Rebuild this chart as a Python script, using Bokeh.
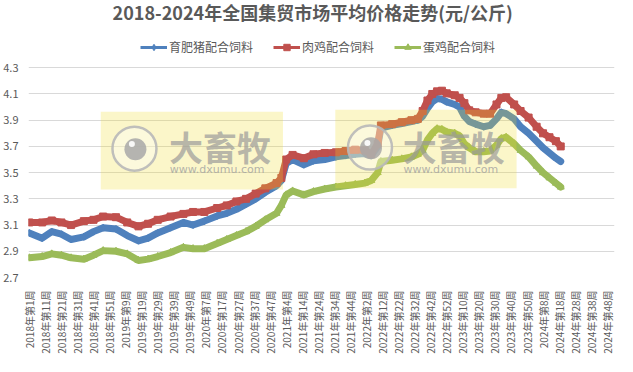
from math import pi
from bokeh.plotting import figure
from bokeh.models import Range1d, FixedTicker, PrintfTickFormatter, Legend, LegendItem, Label
from bokeh.embed import file_html
from bokeh.resources import INLINE
from bokeh.core.properties import value

title_text = "2018-2024年全国集贸市场平均价格走势(元/公斤)"
series_names = ["育肥猪配合饲料", "肉鸡配合饲料", "蛋鸡配合饲料"]
series_colors = ["#4F81BD", "#C0504D", "#9BBB59"]
series_markers = ["diamond", "square", "triangle"]

n_weeks = 365  # 2018年第1周 ... 2024年第52周
tick_index = list(range(0, 361, 10))
tick_labels = [
    "2018年第1周", "2018年第11周", "2018年第21周", "2018年第31周", "2018年第41周", "2018年第51周",
    "2019年第9周", "2019年第19周", "2019年第29周", "2019年第39周", "2019年第49周",
    "2020年第7周", "2020年第17周", "2020年第27周", "2020年第37周", "2020年第47周",
    "2021年第4周", "2021年第14周", "2021年第24周", "2021年第34周", "2021年第44周",
    "2022年第2周", "2022年第12周", "2022年第22周", "2022年第32周", "2022年第42周", "2022年第52周",
    "2023年第10周", "2023年第20周", "2023年第30周", "2023年第40周", "2023年第50周",
    "2024年第8周", "2024年第18周", "2024年第28周", "2024年第38周", "2024年第48周",
]

# week index (0 = 2018年第1周)
week_index = [0, 8, 14, 20, 26, 34, 40, 46, 54, 61,
              68, 74, 80, 88, 96, 102, 109, 117, 123, 129,
              135, 141, 147, 154, 157, 160, 164, 171, 177, 184,
              191, 197, 203, 209, 213, 217, 219, 226, 232, 238,
              242, 245, 248, 251, 254, 257, 260, 265, 268, 271,
              274, 278, 283, 287, 291, 294, 297, 302, 306, 311,
              316, 320, 324, 328, 331]

pig_feed = [3.04, 3.00, 3.05, 3.03, 2.99, 3.01, 3.05, 3.08, 3.07, 3.02,
            2.98, 3.00, 3.04, 3.08, 3.12, 3.10, 3.13, 3.17, 3.19, 3.22,
            3.26, 3.30, 3.35, 3.40, 3.44, 3.57, 3.60, 3.56, 3.59, 3.60,
            3.62, 3.63, 3.64, 3.645, 3.63, 3.70, 3.84, 3.86, 3.875, 3.89,
            3.90, 3.93, 3.99, 4.04, 4.065, 4.06, 4.04, 4.02, 4.00, 3.93,
            3.89, 3.87, 3.85, 3.86, 3.91, 3.96, 3.95, 3.91, 3.85, 3.80,
            3.74, 3.69, 3.65, 3.61, 3.585]

broiler_feed = [3.12, 3.12, 3.135, 3.12, 3.10, 3.13, 3.14, 3.165, 3.16, 3.12,
                3.09, 3.11, 3.14, 3.165, 3.185, 3.20, 3.20, 3.23, 3.25, 3.28,
                3.30, 3.34, 3.38, 3.42, 3.46, 3.60, 3.635, 3.61, 3.64, 3.65,
                3.655, 3.665, 3.675, 3.67, 3.64, 3.72, 3.86, 3.87, 3.885, 3.90,
                3.91, 3.97, 4.05, 4.10, 4.12, 4.125, 4.105, 4.09, 4.07, 4.03,
                3.975, 3.96, 3.95, 3.95, 4.02, 4.07, 4.075, 4.02, 3.97, 3.92,
                3.85, 3.80, 3.77, 3.74, 3.70]

layer_feed = [2.85, 2.86, 2.88, 2.87, 2.85, 2.84, 2.87, 2.905, 2.90, 2.88,
              2.83, 2.84, 2.86, 2.89, 2.93, 2.92, 2.92, 2.96, 2.99, 3.02,
              3.05, 3.09, 3.14, 3.19, 3.25, 3.33, 3.36, 3.33, 3.355, 3.375,
              3.39, 3.40, 3.41, 3.42, 3.44, 3.50, 3.585, 3.595, 3.605, 3.62,
              3.64, 3.67, 3.75, 3.80, 3.835, 3.83, 3.81, 3.80, 3.78, 3.72,
              3.69, 3.66, 3.66, 3.665, 3.71, 3.76, 3.77, 3.72, 3.67, 3.62,
              3.55, 3.50, 3.46, 3.42, 3.39]

y_ticks = [2.7, 2.9, 3.1, 3.3, 3.5, 3.7, 3.9, 4.1, 4.3]

FONT = "Noto Sans CJK SC"
TEXT_GREY = "#595959"
NAN = float("nan")

# frame spans the whole top so that the title and legend (inside it) are not clipped;
# gridlines/ticks stop at 4.3
p = figure(width=617, height=356,
           x_range=Range1d(-0.5, n_weeks - 0.5), y_range=Range1d(2.7, 4.813),
           output_backend="svg", toolbar_location=None,
           min_border_left=22, min_border_right=3,
           min_border_top=0, min_border_bottom=77)
p.outline_line_color = None
p.background_fill_color = "white"
p.border_fill_color = "white"

# axes
p.xaxis.ticker = FixedTicker(ticks=tick_index)
p.xaxis.major_label_overrides = {t: lab for t, lab in zip(tick_index, tick_labels)}
p.xaxis.major_label_orientation = pi / 2
p.xaxis.major_label_text_font = FONT
p.xaxis.major_label_text_font_size = "10px"
p.xaxis.major_label_text_color = TEXT_GREY
p.xaxis.major_label_standoff = 7
p.yaxis.ticker = FixedTicker(ticks=y_ticks)
p.yaxis.formatter = PrintfTickFormatter(format="%.1f")
p.yaxis.major_label_text_font = FONT
p.yaxis.major_label_text_font_size = "11px"
p.yaxis.major_label_text_color = TEXT_GREY
p.yaxis.major_label_standoff = 4
for ax in (p.xaxis, p.yaxis):
    ax.axis_line_color = None
    ax.major_tick_line_color = None
    ax.minor_tick_line_color = None
p.xgrid.grid_line_color = None
p.ygrid.grid_line_color = "#D9D9D9"
p.ygrid.grid_line_width = 1

# series
all_series = [pig_feed, broiler_feed, layer_feed]
legend_items = []
for name, vals, col, mk in zip(series_names, all_series, series_colors, series_markers):
    p.line(week_index, vals, line_color=col, line_width=7, line_join="round", line_cap="round")
    p.scatter(week_index, vals, marker=mk, size=7, fill_color=col, line_color=col)
    # legend-only glyphs (no visible data)
    lr = p.line([NAN], [NAN], line_color=col, line_width=3)
    sr = p.scatter([NAN], [NAN], marker=mk, size=7, fill_color=col, line_color=col)
    legend_items.append(LegendItem(label=name, renderers=[lr, sr]))

# watermark overlays (decoration)
wm_boxes = [(44.5, 158.0, 3.372, 3.964), (190.6, 303.5, 3.380, 3.979)]
wm_logo = [(65.5, 3.683), (212.2, 3.691)]
wm_text_x = [87.0, 232.6]
for (l, r, b, t), (lx, ly), tx in zip(wm_boxes, wm_logo, wm_text_x):
    p.quad(left=[l], right=[r], bottom=[b], top=[t], fill_color="#F0DC28", fill_alpha=0.25, line_color=None)
    p.scatter([lx], [ly], marker="circle", size=44, fill_color="white", fill_alpha=0.35,
              line_color="#B8B8B8", line_width=2.5, line_alpha=0.9)
    p.scatter([lx + 0.6], [ly - 0.005], marker="circle", size=22, fill_color="#A8A8A8", fill_alpha=0.85, line_color=None)
    p.scatter([lx - 1.6], [ly + 0.035], marker="circle", size=6, fill_color="white", fill_alpha=0.9, line_color=None)
    p.text([tx], [3.698], text=["大畜牧"], text_font=value(FONT), text_font_size="34px",
           text_font_style="bold", text_color="#9A9A9A", text_alpha=0.7,
           text_baseline="middle", text_align="left")
    p.text([tx + 0.5], [3.524], text=["www.dxumu.com"], text_font=value("DejaVu Sans"), text_font_size="11px",
           text_color="#A0A0A0", text_alpha=0.8, text_baseline="middle", text_align="left")

legend = Legend(items=legend_items, orientation="horizontal", location=(112, 222),
                glyph_width=27, glyph_height=16, label_height=16, label_standoff=2, spacing=20,
                padding=0, margin=0, border_line_color=None, background_fill_alpha=0,
                label_text_font=FONT, label_text_font_size="12px", label_text_color=TEXT_GREY)
p.add_layout(legend)

title = Label(x=176.5, y=4.722, text=title_text, text_align="center", text_baseline="middle",
              text_font=FONT, text_font_size="18px", text_font_style="bold", text_color=TEXT_GREY)
p.add_layout(title)

open("out.html", "w").write(file_html(p, INLINE))
